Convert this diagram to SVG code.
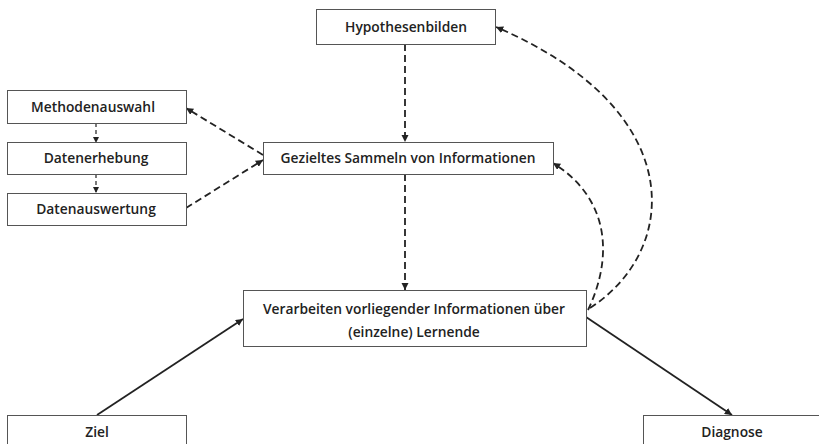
<svg xmlns="http://www.w3.org/2000/svg" width="819" height="444" viewBox="0 0 819 444">
<style>
.box{fill:#fff;stroke:#555;stroke-width:1}
.t{font-family:"Open Sans","Noto Sans",sans-serif;font-weight:600;font-size:13.8px;fill:#222;text-anchor:middle}
.d{fill:none;stroke:#222;stroke-width:1.8;stroke-dasharray:7,4}
.ds{fill:none;stroke:#222;stroke-width:1.2;stroke-dasharray:4,3}
.s{fill:none;stroke:#222;stroke-width:1.8}
</style>
<defs>
<marker id="a" viewBox="0 0 10 10" refX="10" refY="5" markerWidth="4" markerHeight="4" orient="auto" markerUnits="strokeWidth">
<path d="M0,0 L10,5 L0,10 z" fill="#222"/>
</marker>
<marker id="as" viewBox="0 0 10 10" refX="10" refY="5" markerWidth="5" markerHeight="5" orient="auto" markerUnits="strokeWidth">
<path d="M0,0 L10,5 L0,10 z" fill="#222"/>
</marker>
</defs>
<rect width="819" height="444" fill="#fff"/>
<g id="connectors">
<path class="d" d="M405,44 L405,142" marker-end="url(#a)"/>
<path class="d" d="M405,174 L405,290" marker-end="url(#a)"/>
<path class="d" d="M263,155 L186,108" marker-end="url(#a)"/>
<path class="d" d="M186,208 L263,160" marker-end="url(#a)"/>
<path class="ds" d="M96,123 L96,143" marker-end="url(#as)"/>
<path class="ds" d="M96,174 L96,193" marker-end="url(#as)"/>
<path class="d" d="M588,310 C612,260 612,200 553,163" marker-end="url(#a)"/>
<path class="d" d="M590,308 C680,250 690,110 496,27" marker-end="url(#a)"/>
<path class="s" d="M97,415 L243,319" marker-end="url(#a)"/>
<path class="s" d="M586,317 L732,415" marker-end="url(#a)"/>
</g>
<g id="hypothesenbilden">
<rect class="box" x="316.5" y="9.5" width="179" height="35"/>
<text class="t" x="406" y="32">Hypothesenbilden</text>
</g>
<g id="methodenauswahl">
<rect class="box" x="7.5" y="90.5" width="179" height="33"/>
<text class="t" x="93" y="112">Methodenauswahl</text>
</g>
<g id="datenerhebung">
<rect class="box" x="7.5" y="142.5" width="179" height="32"/>
<text class="t" x="96" y="163">Datenerhebung</text>
</g>
<g id="datenauswertung">
<rect class="box" x="7.5" y="193.5" width="179" height="32"/>
<text class="t" x="96" y="214">Datenauswertung</text>
</g>
<g id="gezieltes">
<rect class="box" x="263.5" y="142.5" width="290" height="32"/>
<text class="t" x="408" y="163">Gezieltes Sammeln von Informationen</text>
</g>
<g id="verarbeiten">
<rect class="box" x="243.5" y="290.5" width="343" height="56"/>
<text class="t" x="414" y="314">Verarbeiten vorliegender Informationen über</text>
<text class="t" x="414" y="337">(einzelne) Lernende</text>
</g>
<g id="ziel">
<rect class="box" x="7.5" y="415.5" width="179" height="40"/>
<text class="t" x="97" y="437">Ziel</text>
</g>
<g id="diagnose">
<rect class="box" x="643.5" y="415.5" width="190" height="40"/>
<text class="t" x="732" y="437">Diagnose</text>
</g>
</svg>
